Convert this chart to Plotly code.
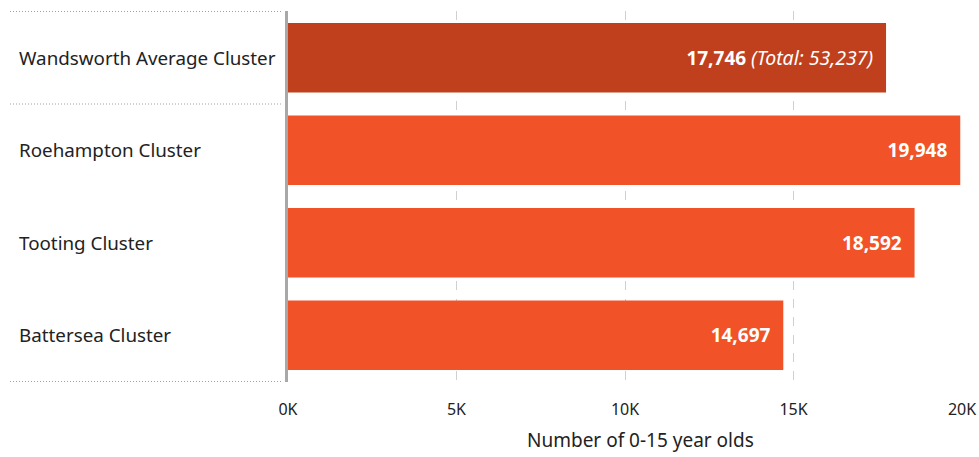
import plotly.graph_objects as go

categories = ["Wandsworth Average Cluster", "Roehampton Cluster", "Tooting Cluster", "Battersea Cluster"]
values = [17746, 19948, 18592, 14697]
total_label = "53,237"
bar_colors = ["#C0401D", "#F15227", "#F15227", "#F15227"]
tick_vals = [0, 5000, 10000, 15000, 20000]
tick_text = ["0K", "5K", "10K", "15K", "20K"]
x_title = "Number of 0-15 year olds"

FONT = "Noto Sans"
W, H = 979, 457
ML, MR, MT, MB = 288, 17, 11, 75
PW = W - ML - MR

texts = []
for i, v in enumerate(values):
    s = f"<b>{v:,}</b>"
    if i == 0:
        s += f" <i><span style='font-size:19.5px'>(Total: {total_label})</span></i>"
    texts.append(s + "\u00a0\u00a0")

fig = go.Figure(go.Bar(
    y=categories, x=values, orientation="h",
    marker=dict(color=bar_colors, line=dict(width=0)),
    text=texts, textposition="inside", insidetextanchor="end",
    textfont=dict(family=FONT, size=19, color="white"),
    cliponaxis=False, hoverinfo="skip",
))

shapes = []
for yb in [-0.5, 0.5, 3.5]:
    shapes.append(dict(type="line", xref="paper", yref="y",
                       x0=-(ML - 10) / PW, x1=-(ML - 282) / PW, y0=yb, y1=yb,
                       line=dict(color="#a0a0a0", width=1, dash="1px,2px")))

annotations = []
for c in categories:
    annotations.append(dict(xref="paper", yref="y", x=-(ML - 17) / PW, y=c,
                            text=c, showarrow=False, xanchor="left", yanchor="middle",
                            font=dict(family=FONT, size=18.8, color="#222222")))
annotations.append(dict(xref="paper", yref="paper", x=(640 - ML) / PW, y=-(440 - (H - MB)) / (H - MT - MB),
                        text=x_title, showarrow=False, xanchor="center", yanchor="middle",
                        font=dict(family=FONT, size=19, color="#222222")))

fig.update_layout(
    width=W, height=H, margin=dict(l=ML, r=MR, t=MT, b=MB, autoexpand=False),
    paper_bgcolor="white", plot_bgcolor="white",
    bargap=0.25, showlegend=False,
    shapes=shapes, annotations=annotations,
    font=dict(family=FONT, color="#222222"),
    xaxis=dict(range=[0, 20000], tickvals=tick_vals, ticktext=tick_text,
               showgrid=True, gridcolor="#d0d0d0", griddash="dash", gridwidth=1,
               zeroline=False, showline=False, ticks="", automargin=False,
               tickfont=dict(family=FONT, size=16, color="#222222"),
               ticklabelstandoff=16),
    yaxis=dict(categoryorder="array", categoryarray=categories, autorange="reversed",
               range=[3.5, -0.5], showticklabels=False, showgrid=False, zeroline=False,
               automargin=False,
               showline=True, linecolor="#a8a8a8", linewidth=3, ticks=""),
)

fig.write_html("out.html", config={"displayModeBar": False},
               post_script="document.body.style.margin='0';document.body.style.overflow='hidden';")
